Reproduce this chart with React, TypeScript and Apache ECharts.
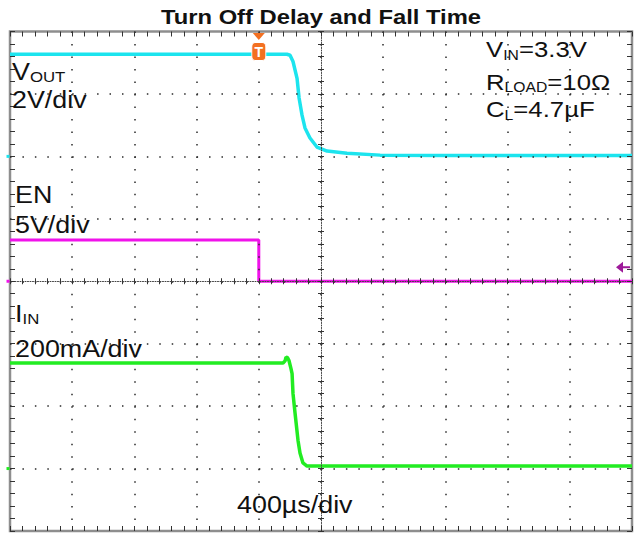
import React, { useEffect, useRef } from "react";
import * as echarts from "echarts";

// ---------- data ----------
const TITLE = "Turn Off Delay and Fall Time";
const TIME_PER_DIV_US = 400;
const X_DIVS = 10;
const Y_DIVS = 8;

// VOUT (V), 2 V/div, ground marker at 6 div from bottom
const VOUT_T = [0, 1781, 1801, 1820, 1846, 1859, 1878, 1897, 1929, 1974, 2039, 2167, 2380, 2830, 4000];
const VOUT_V = [3.27, 3.27, 3.24, 3.04, 2.5, 1.87, 1.32, 0.91, 0.59, 0.3, 0.17, 0.1, 0.04, 0.025, 0.025];
const VOUT_SCALE = 2;
const VOUT_GROUND = 6;

// EN (V), 5 V/div, ground at 4 div
const EN_T = [0, 1600, 1600, 4000];
const EN_V = [3.3, 3.3, 0, 0];
const EN_SCALE = 5;
const EN_GROUND = 4;

// IIN (mA), 200 mA/div, ground at 1 div
const IIN_T = [0, 1756, 1769, 1775, 1785, 1794, 1807, 1814, 1820, 1833, 1852, 1865, 1884, 1910, 4000];
const IIN_MA = [338, 338, 345, 357, 355, 346, 320, 304, 240, 178, 91, 50, 18, 8, 8];
const IIN_SCALE = 200;
const IIN_GROUND = 1;

const TRIGGER_T = 1600;
const TRIGGER_LEVEL_V = 1.13;

// ---------- styles ----------
const CYAN = "#1CE4EE";
const MAGENTA = "#F012EA";
const GREEN = "#22EC22";
const ORANGE = "#F37021";
const TRIG_PURPLE = "#9E1A9A";
const TICK = "#333333";
const FONT = "'Liberation Sans', Arial, sans-serif";

const GRID = { left: 10, top: 31.5, width: 622, height: 499.5 };
const XMAX = X_DIVS * TIME_PER_DIV_US;

function toSeries(ts: number[], vs: number[], scale: number, ground: number) {
  return ts.map((t, i) => [t, vs[i] / scale + ground]);
}

function xAxisDef(position: string, offset: number, inside: boolean, len: number, opts: any = {}) {
  return {
    type: "value",
    gridIndex: 0,
    min: 0,
    max: XMAX,
    interval: TIME_PER_DIV_US,
    position,
    offset,
    z: 3,
    axisLabel: { show: false },
    axisLine: opts.line
      ? { show: true, onZero: false, lineStyle: { color: "#444", width: 1, type: [1, 1.5] } }
      : { show: false, onZero: false },
    axisTick: { show: true, inside, length: len, lineStyle: { color: TICK, width: 1 } },
    minorTick: { show: true, splitNumber: 5, length: len, lineStyle: { color: TICK, width: 1 } },
    splitLine: opts.split
      ? { show: true, showMinLine: false, showMaxLine: false, lineStyle: { color: "#2a2a2a", width: 1.5, type: [1.5, 10.99] } }
      : { show: false },
  };
}

function yAxisDef(position: string, offset: number, inside: boolean, len: number, opts: any = {}) {
  return {
    type: "value",
    gridIndex: 0,
    min: 0,
    max: Y_DIVS,
    interval: 1,
    position,
    offset,
    z: 3,
    axisLabel: { show: false },
    axisLine: opts.line
      ? { show: true, onZero: false, lineStyle: { color: "#444", width: 1, type: [1, 1.5] } }
      : { show: false, onZero: false },
    axisTick: { show: true, inside, length: len, lineStyle: { color: TICK, width: 1 } },
    minorTick: { show: true, splitNumber: 5, length: len, lineStyle: { color: TICK, width: 1 } },
    splitLine: opts.split
      ? { show: true, showMinLine: false, showMaxLine: false, lineStyle: { color: "#2a2a2a", width: 1.5, type: [1.5, 10.94] } }
      : { show: false },
  };
}

function txt(text: string, x: number, y: number, fontSize: number, sx: number, extra: any = {}) {
  return {
    type: "text",
    x,
    y,
    scaleX: sx,
    z: 10,
    style: {
      text,
      fontSize,
      fontFamily: FONT,
      fill: "#111",
      align: extra.align || "left",
      verticalAlign: "middle",
      fontWeight: extra.bold ? "bold" : "normal",
    },
  };
}

function groundMark(ground: number, color: string) {
  return {
    coord: [0, ground],
    symbol: "rect",
    symbolSize: [3, 3],
    symbolOffset: [-2, 0],
    itemStyle: { color },
    label: { show: false },
  };
}

const SX = 1.12;

const option: any = {
  animation: false,
  backgroundColor: "#ffffff",
  grid: {
    ...GRID,
    show: true,
    borderColor: "#8e8e8e",
    borderWidth: 2.5,
    backgroundColor: "#ffffff",
    z: 0,
  },
  xAxis: [
    xAxisDef("bottom", 0, true, 5, { split: true }),
    xAxisDef("top", 0, true, 5),
    xAxisDef("bottom", -GRID.height / 2, true, 3, { line: true }),
    xAxisDef("bottom", -GRID.height / 2, false, 3),
  ],
  yAxis: [
    yAxisDef("left", 0, true, 5, { split: true }),
    yAxisDef("right", 0, true, 5),
    yAxisDef("left", -GRID.width / 2, true, 3, { line: true }),
    yAxisDef("left", -GRID.width / 2, false, 3),
  ],
  series: [
    {
      name: "VOUT",
      type: "line",
      xAxisIndex: 0,
      yAxisIndex: 0,
      data: toSeries(VOUT_T, VOUT_V, VOUT_SCALE, VOUT_GROUND),
      showSymbol: false,
      z: 2,
      lineStyle: { color: CYAN, width: 3.5 },
      itemStyle: { color: CYAN },
      markPoint: { silent: true, data: [groundMark(VOUT_GROUND, CYAN)] },
    },
    {
      name: "EN",
      type: "line",
      xAxisIndex: 0,
      yAxisIndex: 0,
      data: toSeries(EN_T, EN_V, EN_SCALE, EN_GROUND),
      showSymbol: false,
      z: 2,
      lineStyle: { color: MAGENTA, width: 3 },
      itemStyle: { color: MAGENTA },
      markPoint: {
        silent: true,
        data: [
          groundMark(EN_GROUND, MAGENTA),
          {
            coord: [TRIGGER_T, Y_DIVS],
            symbol: "triangle",
            symbolRotate: 180,
            symbolSize: [12, 7],
            symbolOffset: [0, 5],
            itemStyle: { color: ORANGE },
            label: { show: false },
          },
          {
            coord: [TRIGGER_T, Y_DIVS],
            symbol: "roundRect",
            symbolSize: [14, 18],
            symbolOffset: [0, 20],
            itemStyle: { color: ORANGE, borderColor: "#fff", borderWidth: 1 },
            label: {
              show: true,
              position: "inside",
              formatter: "T",
              color: "#fff",
              fontSize: 14,
              fontWeight: "bold",
              fontFamily: FONT,
            },
          },
          {
            coord: [XMAX, TRIGGER_LEVEL_V / EN_SCALE + EN_GROUND],
            symbol: "path://M0,5.5 L7,0 L7,4.5 L14,4.5 L14,6.5 L7,6.5 L7,11 Z",
            symbolSize: [14, 11],
            symbolOffset: [-9, 0],
            itemStyle: { color: TRIG_PURPLE },
            label: { show: false },
          },
        ],
      },
    },
    {
      name: "IIN",
      type: "line",
      xAxisIndex: 0,
      yAxisIndex: 0,
      data: toSeries(IIN_T, IIN_MA, IIN_SCALE, IIN_GROUND),
      showSymbol: false,
      z: 2,
      lineStyle: { color: GREEN, width: 3.5 },
      itemStyle: { color: GREEN },
      markPoint: { silent: true, data: [groundMark(IIN_GROUND, GREEN)] },
    },
  ],
  graphic: [
    txt(TITLE, 321, 16.9, 20.5, 1.16, { align: "center", bold: true }),
    // left channel labels
    txt("V", 12, 71.7, 24, SX),
    txt("OUT", 29.9, 76.8, 15, SX),
    txt("2V/div", 12, 99.7, 24, SX),
    txt("EN", 15, 194.7, 24, SX),
    txt("5V/div", 15, 224.7, 24, SX),
    txt("I", 15, 313.7, 24, SX),
    txt("IN", 22.5, 319.3, 15, SX),
    txt("200mA/div", 15, 348.2, 24, SX),
    txt("400µs/div", 237, 504.7, 24, SX),
    // conditions
    txt("V", 486, 49, 23, SX),
    txt("IN", 503.2, 55.15, 14, SX),
    txt("=3.3V", 518.9, 49, 23, SX),
    txt("R", 486, 82, 23, SX),
    txt("LOAD", 504.6, 87.65, 14, SX),
    txt("=10Ω", 547.3, 82, 23, SX),
    txt("C", 486, 109, 23, SX),
    txt("L", 504.6, 115.15, 14, SX),
    txt("=4.7µF", 513.3, 109, 23, SX),
  ],
};

export default function App() {
  const ref = useRef<HTMLDivElement>(null);
  useEffect(() => {
    if (!ref.current) return;
    const chart = echarts.init(ref.current, null, { renderer: "svg" });
    chart.setOption(option);
    return () => chart.dispose();
  }, []);
  return (
    <div
      ref={ref}
      style={{ position: "fixed", left: 0, top: 0, width: 638, height: 534, background: "#fff" }}
    />
  );
}
